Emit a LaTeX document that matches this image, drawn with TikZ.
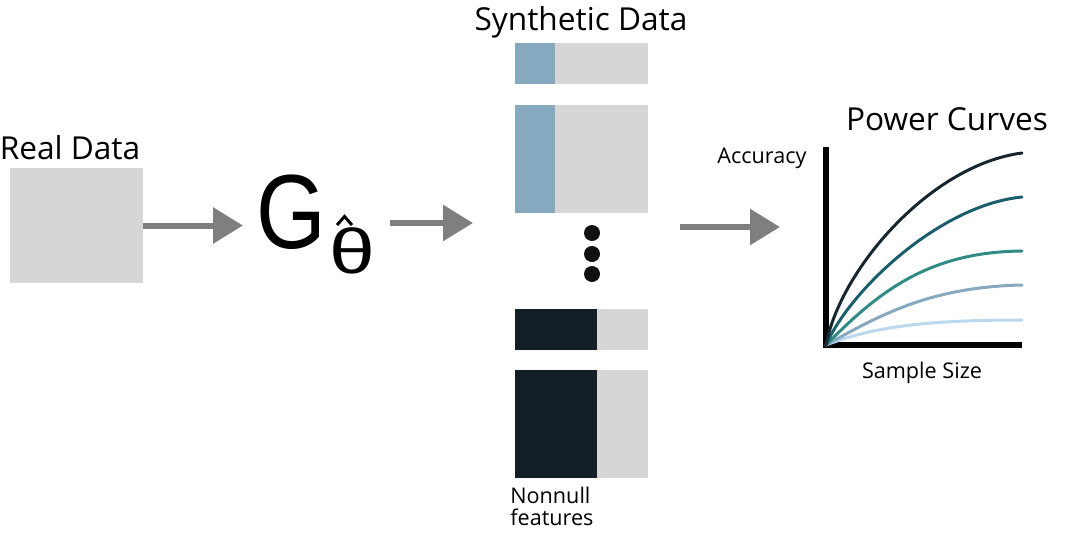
\documentclass[tikz,border=0pt]{standalone}
\usepackage{fontspec}
\setmainfont{Open Sans}
\newfontfamily\helvG[FakeStretch=0.85]{Liberation Sans}
\newfontfamily\helvT[FakeStretch=1.3]{Liberation Sans}
\usetikzlibrary{
  arrows.meta,
  positioning
}
\definecolor{boxgray}{HTML}{D6D6D6}
\definecolor{arrowgray}{HTML}{7F7F7F}
\definecolor{nullblue}{HTML}{86A9BF}
\definecolor{nonnull}{HTML}{131F27}
\definecolor{dotblack}{HTML}{111111}
\definecolor{cA}{HTML}{16252E}
\definecolor{cB}{HTML}{1B5E6C}
\definecolor{cC}{HTML}{2F8B83}
\definecolor{cD}{HTML}{88A8BD}
\definecolor{cE}{HTML}{BCD8EE}
\tikzset{
  flow/.style={-{Triangle[length=0.6cm, width=0.7cm]}, line width=0.12cm, draw=arrowgray},
  title/.style={font=\fontsize{18}{20}\selectfont, inner sep=0pt},
  note/.style={font=\fontsize{12.3}{14}\selectfont, inner sep=0pt},
  databox/.style={fill=boxgray, inner sep=0pt, minimum width=2.66cm, minimum height=2.3cm},
  powcurve/.style={line width=1.7pt, line cap=round},
}

\begin{document}
\begin{tikzpicture}[x=0.02cm, y=-0.02cm]
\useasboundingbox (0,0) rectangle (1078,548);

% real data and generator
\node[databox] (real) at (76.5,225.5) {};
\node[title, anchor=base] (realtitle) at (70,159) {Real Data};
\node[font=\helvG\fontsize{60}{60}\selectfont, inner sep=0pt, anchor=base west] (gen) at (256,248) {G};
\node[font=\helvT\fontsize{36}{36}\selectfont, inner sep=0pt, anchor=base west] (theta) at (329,273) {θ};
\draw[line width=0.06cm] (337,225) -- (344.5,216.5) -- (352,225);

\coordinate (genin) at (243,225.5);
\coordinate (genout) at (390,223);
\coordinate (synin) at (473,223);
\draw[flow] (real.east) -- (genin);
\draw[flow] (genout) -- (synin);

% synthetic data sets
\node[title, anchor=base] (syntitle) at (581,30) {Synthetic Data};
\foreach \y/\h/\w/\c in {43/41/40/nullblue, 105/108/40/nullblue, 309/41/82/nonnull, 370/108/82/nonnull}{
  \fill[boxgray] (515,\y) rectangle ++(133,\h);
  \fill[\c] (515,\y) rectangle ++(\w,\h);
}
\foreach \y in {233,254,274}
  \fill[dotblack] (592,\y) circle (8);
\node[note, anchor=base west] (nonnull) at (510,503) {Nonnull};
\node[note, anchor=base west] (features) at (510,525) {features};

\coordinate (synout) at (680,227);
\coordinate (powin) at (780,227);
\draw[flow] (synout) -- (powin);

% power curves
\node[title, anchor=base] (powtitle) at (947,130) {Power Curves};
\node[note, anchor=base west] (acc) at (717,163) {Accuracy};
\node[note, anchor=base] (size) at (922,378) {Sample Size};
\coordinate (origin) at (826,345);
\draw[line width=0.12cm, line join=miter] (826,147) -- (origin) -- (1022,345);

\draw[powcurve, cE] (origin) .. controls (870,328) and (920,320) .. (1022,320);
\draw[powcurve, cD] (origin) .. controls (880,315) and (930,287) .. (1022,285);
\draw[powcurve, cC] (origin) .. controls (880,290) and (930,252) .. (1022,251);
\draw[powcurve, cB] (origin) .. controls (850,290) and (940,205) .. (1022,197);
\draw[powcurve, cA] (origin) .. controls (840,270) and (930,165) .. (1022,153);

\end{tikzpicture}
\end{document}
